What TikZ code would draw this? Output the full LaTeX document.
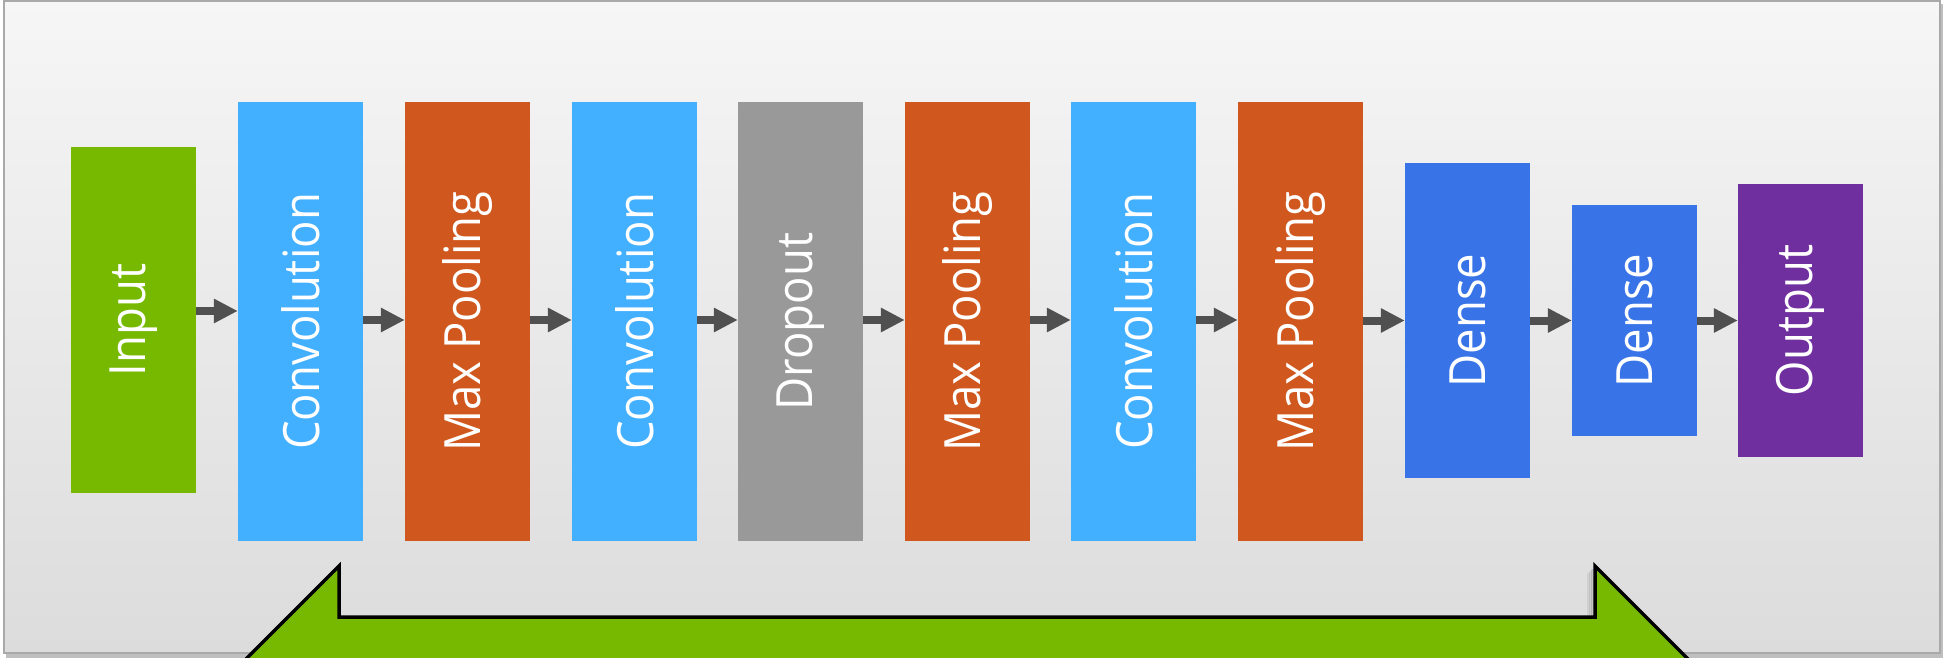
\documentclass[tikz,border=0pt]{standalone}
\usepackage{fontspec}
\setmainfont{Open Sans}
\usetikzlibrary{arrows.meta,calc}
\definecolor{bgtop}{HTML}{F6F6F6}
\definecolor{bgbot}{HTML}{DCDCDC}
\definecolor{frame}{HTML}{A9A9A9}
\definecolor{nvgreen}{HTML}{76B900}
\definecolor{convblue}{HTML}{43AFFF}
\definecolor{poolorange}{HTML}{D0571D}
\definecolor{dropgray}{HTML}{999999}
\definecolor{denseblue}{HTML}{3874E8}
\definecolor{outpurple}{HTML}{6F2F9F}
\definecolor{arrowgray}{HTML}{505050}
\newcommand{\lyrtext}[1]{\scalebox{0.91}[1]{#1}}
\tikzset{
  layer/.style={draw=none, inner sep=0pt, minimum width=125pt},
  lbl/.style={rotate=90, text=white, inner sep=0pt,
    font=\fontsize{50}{60}\selectfont},
  flow/.style={draw=arrowgray, line width=8pt,
    -{Triangle[length=24pt,width=23pt]}, arrowgray},
}
\begin{document}
\begin{tikzpicture}[x=1pt,y=-1pt]
\useasboundingbox (0,0) rectangle (1943,658);
\clip (0,0) rectangle (1943,658);
% background panel
\fill[black!25] (6,4) rectangle (1943,658);
\shade[top color=bgtop, bottom color=bgbot, draw=frame, line width=2pt]
  (4,1) rectangle (1940,653);
% layers
\node[layer, fill=nvgreen, minimum height=346pt] (in) at (133.5,320) {};
\node[layer, fill=convblue, minimum height=439pt] (c1) at (300.5,321.5) {};
\node[layer, fill=poolorange, minimum height=439pt] (p1) at (467.5,321.5) {};
\node[layer, fill=convblue, minimum height=439pt] (c2) at (634.5,321.5) {};
\node[layer, fill=dropgray, minimum height=439pt] (d1) at (800.5,321.5) {};
\node[layer, fill=poolorange, minimum height=439pt] (p2) at (967.5,321.5) {};
\node[layer, fill=convblue, minimum height=439pt] (c3) at (1133.5,321.5) {};
\node[layer, fill=poolorange, minimum height=439pt] (p3) at (1300.5,321.5) {};
\node[layer, fill=denseblue, minimum height=315pt] (f1) at (1467.5,320.5) {};
\node[layer, fill=denseblue, minimum height=231pt] (f2) at (1634.5,320.5) {};
\node[layer, fill=outpurple, minimum height=273pt] (out) at (1800.5,320.5) {};
% labels
\node[lbl] (tin) at (in.center) {\lyrtext{Input}};
\node[lbl] (tc1) at (c1.center) {\lyrtext{Convolution}};
\node[lbl] (tp1) at (p1.center) {\lyrtext{Max Pooling}};
\node[lbl] (tc2) at (c2.center) {\lyrtext{Convolution}};
\node[lbl] (td1) at (d1.center) {\lyrtext{Dropout}};
\node[lbl] (tp2) at (p2.center) {\lyrtext{Max Pooling}};
\node[lbl] (tc3) at (c3.center) {\lyrtext{Convolution}};
\node[lbl] (tp3) at (p3.center) {\lyrtext{Max Pooling}};
\node[lbl] (tf1) at (f1.center) {\lyrtext{Dense}};
\node[lbl] (tf2) at (f2.center) {\lyrtext{Dense}};
\node[lbl] (tout) at (out.center) {\lyrtext{Output}};
% connectors
\draw[flow] ([yshift=9pt]in.east) -- ([yshift=9pt]in.east -| c1.west);
\draw[flow] ([yshift=1.5pt]c1.east) -- ([yshift=1.5pt]p1.west);
\draw[flow] ([yshift=1.5pt]p1.east) -- ([yshift=1.5pt]c2.west);
\draw[flow] ([yshift=1.5pt]c2.east) -- ([yshift=1.5pt]d1.west);
\draw[flow] ([yshift=1.5pt]d1.east) -- ([yshift=1.5pt]p2.west);
\draw[flow] ([yshift=1.5pt]p2.east) -- ([yshift=1.5pt]c3.west);
\draw[flow] ([yshift=1.5pt]c3.east) -- ([yshift=1.5pt]p3.west);
\draw[flow] (p3.east |- f1.east) -- (f1.west);
\draw[flow] (f1.east) -- (f2.west);
\draw[flow] (f2.east) -- (out.west);
% green return shape (shadow then shape)
\foreach \o/\a in {7/0.06,5/0.08,3/0.12}{
  \draw[black, opacity=\a, line width=3pt, line join=miter]
    ([xshift=-\o pt, yshift=-\o pt]205,700) -- ([xshift=-\o pt, yshift=-\o pt]339,566)
    -- ([xshift=-\o pt, yshift=-\o pt]339,617);
  \draw[black, opacity=\a, line width=3pt]
    ([xshift=-\o pt, yshift=-\o pt]1595,617) -- ([xshift=-\o pt, yshift=-\o pt]1595,566);
}
\draw[fill=nvgreen, draw=black, line width=3.5pt, line join=miter]
  (205,700) -- (339,566) -- (339,617) -- (1595,617) -- (1595,566) -- (1729,700) -- cycle;
\end{tikzpicture}
\end{document}
